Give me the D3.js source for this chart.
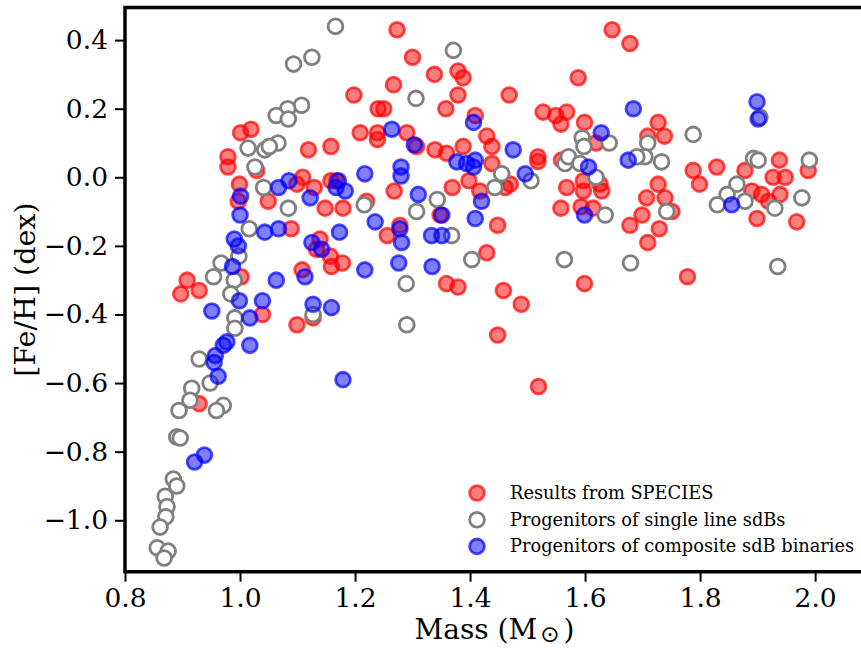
<!DOCTYPE html>
<html>
<head>
<meta charset="utf-8">
<script src="https://cdn.jsdelivr.net/npm/d3@7"></script>
<style>
  body { margin: 0; background: #fff; }
  text { font-family: "DejaVu Serif", serif; }
</style>
</head>
<body>
<script>
// Width and height
const w = 861;
const h = 648;

// Results from SPECIES (red, filled)
const speciesMass = [1.273, 1.30, 1.338, 1.379, 1.388, 1.267, 1.198, 1.379, 1.468, 1.358,
  1.240, 1.250, 1.409, 1.527, 1.549, 1.568, 1.558, 1.599, 1.647, 1.678,
  1.588, 1.727, 1.709, 1.738, 1.290, 1.307, 1.339, 1.359, 1.388, 1.429,
  1.438, 1.438, 1.398, 1.369, 1.268, 1.417, 1.470, 1.518, 1.518, 1.559,
  1.619, 1.568, 1.597, 1.597, 1.626, 1.629, 1.558, 1.593, 1.614, 1.348,
  1.448, 1.256, 1.707, 1.727, 1.739, 1.678, 1.699, 1.729, 1.709, 1.429,
  1.278, 1.788, 1.799, 1.829, 1.878, 1.938, 1.927, 1.948, 1.988, 1.890,
  1.907, 1.919, 1.939, 1.899, 1.968, 1.751, 1.001, 1.019, 1.209, 1.239,
  1.239, 1.119, 1.158, 0.979, 0.979, 1.029, 0.999, 1.109, 1.099, 1.129,
  1.158, 1.168, 0.997, 1.049, 1.148, 1.179, 1.220, 1.089, 1.139, 1.133,
  0.908, 0.897, 0.929, 1.002, 1.039, 1.099, 1.127, 1.108, 1.157, 1.178,
  1.159, 0.929, 1.359, 1.379, 1.458, 1.489, 1.448, 1.519, 1.599, 1.778,
  1.461];
const speciesFeH = [0.43, 0.35, 0.30, 0.31, 0.29, 0.27, 0.24, 0.24, 0.24, 0.20,
  0.20, 0.20, 0.18, 0.19, 0.18, 0.19, 0.155, 0.16, 0.43, 0.39,
  0.29, 0.16, 0.12, 0.12, 0.13, 0.09, 0.08, 0.07, 0.09, 0.12,
  0.09, 0.04, -0.01, -0.03, -0.04, -0.04, -0.02, 0.06, 0.046, 0.05,
  0.10, -0.03, -0.01, -0.04, -0.02, -0.04, -0.09, -0.086, -0.09, -0.11,
  -0.14, -0.17, -0.06, -0.02, -0.06, -0.14, -0.11, -0.15, -0.19, -0.22,
  -0.14, 0.02, -0.02, 0.03, 0.02, 0.05, 0.0, 0.0, 0.02, -0.04,
  -0.05, -0.07, -0.05, -0.12, -0.13, -0.10, 0.13, 0.14, 0.13, 0.13,
  0.11, 0.08, 0.09, 0.06, 0.03, 0.02, -0.02, 0.0, -0.02, -0.03,
  -0.01, -0.01, -0.07, -0.07, -0.09, -0.09, -0.07, -0.15, -0.18, -0.21,
  -0.30, -0.34, -0.33, -0.29, -0.40, -0.43, -0.41, -0.27, -0.23, -0.25,
  -0.26, -0.66, -0.31, -0.32, -0.33, -0.37, -0.46, -0.61, -0.31, -0.29,
  -0.03];

// Progenitors of single line sdBs (grey, open)
const singleMass = [1.166, 1.125, 1.093, 1.107, 1.083, 1.063, 1.084, 1.066, 1.014, 1.043,
  1.051, 1.026, 1.041, 1.084, 1.216, 1.016, 1.371, 1.306, 1.595, 1.598,
  1.642, 1.565, 1.571, 1.591, 1.619, 1.709, 1.704, 1.733, 1.690, 1.455,
  1.443, 1.506, 1.343, 1.307, 1.635, 1.742, 1.368, 1.904, 1.788, 1.893,
  1.901, 1.990, 1.864, 1.847, 1.830, 1.878, 1.930, 1.977, 0.998, 0.967,
  0.954, 0.990, 0.984, 0.991, 0.991, 1.127, 0.929, 0.948, 0.916, 0.913,
  0.894, 0.971, 0.959, 1.289, 1.290, 0.890, 0.896, 0.884, 0.890, 0.870,
  0.873, 0.871, 0.861, 0.856, 0.875, 0.868, 1.403, 1.564, 1.679, 1.935];
const singleFeH = [0.44, 0.35, 0.33, 0.21, 0.20, 0.18, 0.17, 0.10, 0.085, 0.08,
  0.09, 0.03, -0.03, -0.09, -0.08, -0.15, 0.37, 0.23, 0.115, 0.09,
  0.10, 0.04, 0.06, 0.04, 0.0, 0.10, 0.06, 0.045, 0.06, 0.01,
  -0.03, -0.01, -0.065, -0.10, -0.11, -0.10, -0.17, 0.175, 0.125, 0.055,
  0.05, 0.05, -0.02, -0.05, -0.08, -0.07, -0.09, -0.06, -0.23, -0.25,
  -0.29, -0.30, -0.34, -0.41, -0.44, -0.40, -0.53, -0.60, -0.615, -0.65,
  -0.68, -0.665, -0.68, -0.31, -0.43, -0.757, -0.76, -0.88, -0.90, -0.93,
  -0.96, -0.99, -1.02, -1.08, -1.09, -1.11, -0.24, -0.24, -0.25, -0.26];

// Progenitors of composite sdB binaries (blue, filled)
const compositeMass = [1.264, 1.280, 1.280, 1.217, 1.085, 1.067, 1.171, 1.167, 1.183, 1.122,
  1.001, 1.000, 1.235, 1.173, 1.067, 1.043, 0.990, 0.997, 1.278, 1.281,
  1.303, 1.406, 1.475, 1.377, 1.394, 1.409, 1.406, 1.496, 1.684, 1.628,
  1.675, 1.606, 1.310, 1.420, 1.351, 1.409, 1.599, 1.333, 1.351, 1.899,
  1.901, 1.855, 1.125, 1.142, 0.987, 1.063, 1.113, 1.217, 0.999, 1.039,
  0.951, 1.017, 1.127, 1.159, 0.971, 0.977, 0.957, 0.955, 0.962, 1.017,
  1.179, 1.276, 1.334, 0.921, 0.938];
const compositeFeH = [0.14, 0.03, 0.004, 0.01, -0.01, -0.03, -0.01, -0.03, -0.04, -0.06,
  -0.055, -0.11, -0.13, -0.16, -0.15, -0.16, -0.18, -0.20, -0.15, -0.19,
  0.095, 0.16, 0.08, 0.045, 0.04, 0.05, 0.03, 0.01, 0.20, 0.13,
  0.05, 0.03, -0.05, -0.07, -0.11, -0.12, -0.11, -0.17, -0.17, 0.22,
  0.17, -0.08, -0.19, -0.21, -0.26, -0.30, -0.29, -0.27, -0.36, -0.36,
  -0.39, -0.41, -0.37, -0.38, -0.49, -0.48, -0.52, -0.54, -0.58, -0.49,
  -0.59, -0.25, -0.26, -0.83, -0.81];

const xTicks = [0.8, 1.0, 1.2, 1.4, 1.6, 1.8, 2.0];
const yTicks = [-1.0, -0.8, -0.6, -0.4, -0.2, 0.0, 0.2, 0.4];
const legendLabels = ["Results from SPECIES", "Progenitors of single line sdBs",
  "Progenitors of composite sdB binaries"];

// plot box (right edge runs past the window, like the cropped figure)
const plotL = 125, plotR = 864, plotT = 7.5, plotB = 571.7;

const xScale = d3.scaleLinear().domain([0.8, 2.085]).range([plotL, plotR]);
const yScale = d3.scaleLinear().domain([-1.15, 0.495]).range([plotB, plotT]);

const styles = [
  {fill: "red", fillOp: 0.5, stroke: "red", strokeOp: 0.7},
  {fill: "white", fillOp: 1, stroke: "#808080", strokeOp: 1},
  {fill: "blue", fillOp: 0.5, stroke: "blue", strokeOp: 0.7}
];
const r = 7.4;
const fmt = d3.format(".1f");

const svg = d3.select("body")
  .append("svg")
  .attr("width", w)
  .attr("height", h);

function drawSeries(mass, feh, st) {
  const pts = mass.map((m, i) => [m, feh[i]]);
  svg.append("g")
    .selectAll("circle")
    .data(pts)
    .join("circle")
    .attr("cx", (d) => xScale(d[0]))
    .attr("cy", (d) => yScale(d[1]))
    .attr("r", r)
    .attr("fill", st.fill)
    .attr("fill-opacity", st.fillOp)
    .attr("stroke", st.stroke)
    .attr("stroke-opacity", st.strokeOp)
    .attr("stroke-width", 2.8);
}

drawSeries(speciesMass, speciesFeH, styles[0]);
drawSeries(singleMass, singleFeH, styles[1]);
drawSeries(compositeMass, compositeFeH, styles[2]);

// axes
const xAxis = svg.append("g")
  .attr("transform", "translate(0," + plotB + ")")
  .call(d3.axisBottom(xScale).tickValues(xTicks).tickFormat(fmt)
    .tickSize(10).tickPadding(6));
const yAxis = svg.append("g")
  .attr("transform", "translate(" + plotL + ",0)")
  .call(d3.axisLeft(yScale).tickValues(yTicks).tickFormat(fmt)
    .tickSize(10).tickPadding(7));

[xAxis, yAxis].forEach((a) => {
  a.select(".domain").remove();
  a.selectAll(".tick line").attr("stroke", "#000").attr("stroke-width", 2);
  a.selectAll(".tick text")
    .attr("font-family", "DejaVu Serif, serif")
    .attr("font-size", 26.5)
    .attr("fill", "#000");
});

// long minus sign like matplotlib's, taken from DejaVu Sans
yAxis.selectAll(".tick text").each(function(d) {
  if (d >= 0) return;
  const t = d3.select(this).text("");
  t.append("tspan").attr("font-family", "DejaVu Sans").text("\u2212");
  t.append("tspan").text(fmt(Math.abs(d)));
});

// spines (top, left, bottom)
svg.append("path")
  .attr("d", "M" + (plotR + 5) + "," + plotT + "H" + plotL + "V" + plotB + "H" + (plotR + 5))
  .attr("fill", "none")
  .attr("stroke", "#000")
  .attr("stroke-width", 3.5);

// axis labels
const xl = svg.append("text")
  .attr("x", (plotL + plotR) / 2)
  .attr("y", 639)
  .attr("text-anchor", "middle")
  .attr("font-size", 28);
xl.append("tspan").text("Mass (M");
xl.append("tspan").text("\u2299").attr("font-family", "DejaVu Sans")
  .attr("font-size", 23).attr("dy", 3).attr("dx", 3);
xl.append("tspan").text(")").attr("dy", -3).attr("dx", 4);

svg.append("text")
  .attr("transform", "translate(35," + ((plotT + plotB) / 2) + ") rotate(-90)")
  .attr("text-anchor", "middle")
  .attr("font-size", 28.5)
  .text("[Fe/H] (dex)");

// legend
const lg = svg.append("g").attr("transform", "translate(477,493)");
legendLabels.forEach((lab, i) => {
  const st = styles[i];
  lg.append("circle")
    .attr("cx", 0)
    .attr("cy", i * 26.7)
    .attr("r", r)
    .attr("fill", st.fill)
    .attr("fill-opacity", st.fillOp)
    .attr("stroke", st.stroke)
    .attr("stroke-opacity", st.strokeOp)
    .attr("stroke-width", 2.8);
  lg.append("text")
    .attr("x", 33)
    .attr("y", i * 26.7 + 6)
    .attr("font-size", 17.8)
    .text(lab);
});
</script>
</body>
</html>
